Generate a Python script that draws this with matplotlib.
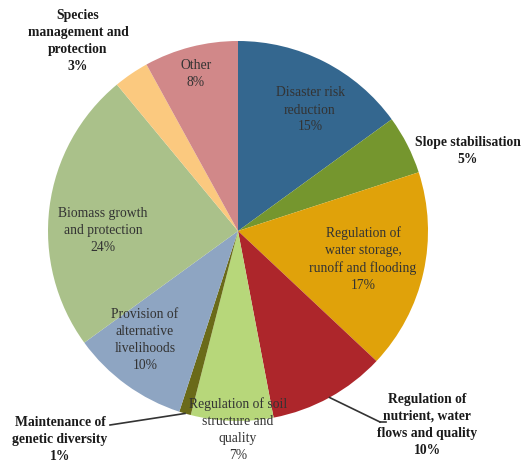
import numpy as np
import matplotlib.pyplot as plt

labels = ['Disaster risk\nreduction', 'Slope stabilisation',
          'Regulation of\nwater storage,\nrunoff and flooding',
          'Regulation of\nnutrient, water\nflows and quality',
          'Regulation of soil\nstructure and\nquality',
          'Maintenance of\ngenetic diversity',
          'Provision of\nalternative\nlivelihoods',
          'Biomass growth\nand protection',
          'Species\nmanagement and\nprotection',
          'Other']
shares = [15, 5, 17, 10, 7, 1, 10, 24, 3, 8]
colors = ['#34678f', '#75962e', '#e0a20a', '#ad262b', '#b7d77a',
          '#6a6a19', '#8ea5c2', '#aac18a', '#fbc97f', '#d18889']

# label placement in pixels (x from left, y from top); outside labels are bold
label_px = [(310, 110), (468, 151), (363, 259), (427, 425), (238, 430),
            (60, 439), (145, 340), (103, 231), (78, 41), (196, 74)]
outside = [False, True, False, True, False, True, False, False, True, False]
leader = {3: (380, 422), 5: (110, 425)}

W, H = 523, 463
cx, cy, R = 238, 231, 190


def to_data(px, py):
    return (px - cx) / R, (cy - py) / R


fig = plt.figure(figsize=(W / 100, H / 100), dpi=100)
ax = fig.add_axes([0, 0, 1, 1])
wedges, _ = ax.pie(shares, colors=colors, startangle=90, counterclock=False,
                   radius=1.0, wedgeprops=dict(linewidth=0))
ax.set_xlim(-cx / R, (W - cx) / R)
ax.set_ylim(-(H - cy) / R, cy / R)
ax.set_aspect('auto')
ax.axis('off')

for i, (lab, val) in enumerate(zip(labels, shares)):
    x, y = to_data(*label_px[i])
    ax.text(x, y, f'{lab}\n{val}%', ha='center', va='center',
            family='Liberation Serif', fontsize=9.8,
            fontweight='bold' if outside[i] else 'normal',
            color='#1a1a1a' if outside[i] else '#333333',
            linespacing=1.4)
    if i in leader:
        w = wedges[i]
        mid = np.deg2rad((w.theta1 + w.theta2) / 2)
        ex, ey = np.cos(mid), np.sin(mid)
        lx, ly = to_data(*leader[i])
        ax.plot([ex, lx], [ey, ly], color='#333333', lw=1.2)
        if i == 3:
            ax.plot([lx, lx + 6 / R], [ly, ly], color='#333333', lw=1.2)

fig.savefig('out.png', dpi=100)
